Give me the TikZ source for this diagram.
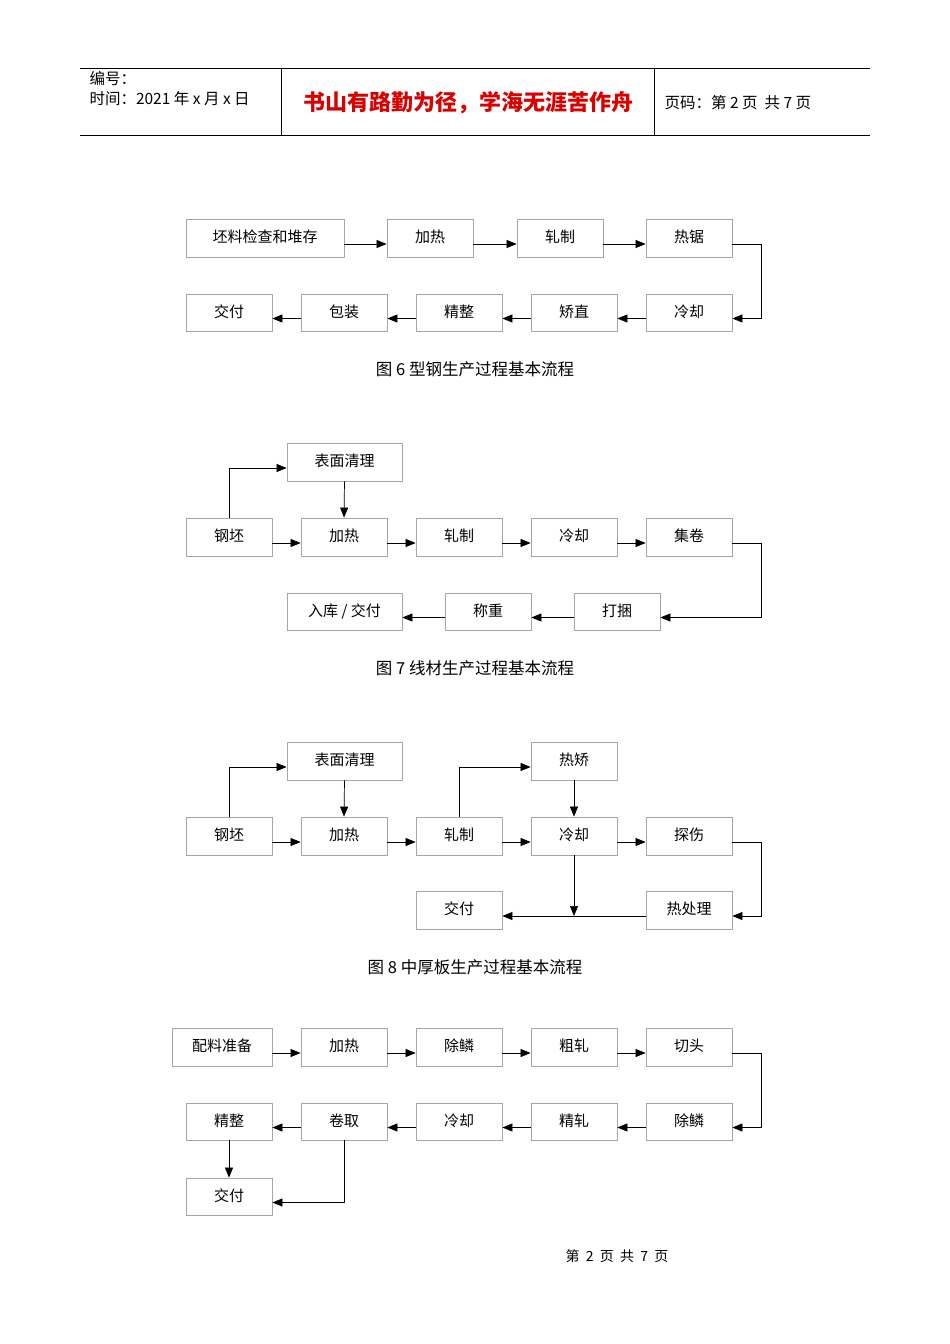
\documentclass[tikz,border=0pt]{standalone}
\usepackage{fontspec}
\setmainfont{Noto Sans CJK SC}
\usetikzlibrary{arrows.meta}
\tikzset{bx/.style={draw=black!35,line width=0.8pt,fill=white,font=\fontsize{15}{18}\selectfont,inner sep=0pt},
ar/.style={draw=black!55,line width=0.7pt,-{Triangle[length=10pt,width=8pt]},black},
ln/.style={draw=black!55,line width=0.7pt},
hd/.style={line width=0.8pt},
captxt/.style={font=\fontsize{16.5}{19}\selectfont}}
\newcommand{\bxx}[6]{\node[bx,minimum width={#4-#2},minimum height={#5-#3}] (#1) at ({(#2+#4)/2},{(#3+#5)/2}) {\raisebox{3pt}{#6}};}
\begin{document}
\begin{tikzpicture}[x=1pt,y=-1pt]
\useasboundingbox (0,0) rectangle (950,1344);
% header
\draw[hd] (80,68) -- (870,68) (80,135) -- (870,135) (281,68) -- (281,135) (654,68) -- (654,135);
\node[anchor=west,font=\fontsize{15.5}{17}\selectfont] (h1) at (86,79) {编号：};
\node[anchor=west,font=\fontsize{15.5}{17}\selectfont] (h2) at (86,99) {时间：2021 年 x 月 x 日};
\node[font=\fontsize{22}{24}\selectfont\bfseries,text=red!85!black] (h3) at (468,103) {书山有路勤为径，学海无涯苦作舟};
\node[anchor=west,font=\fontsize{15.5}{17}\selectfont] (h4) at (661,103) {页码：第 2 页\ \ 共 7 页};
% diagram 6
\bxx{a1}{186}{219}{344}{257}{坯料检查和堆存}
\bxx{a2}{387}{219}{473}{257}{加热}
\bxx{a3}{517}{219}{603}{257}{轧制}
\bxx{a4}{646}{219}{732}{257}{热锯}
\bxx{b1}{186}{294}{272}{331}{交付}
\bxx{b2}{301}{294}{387}{331}{包装}
\bxx{b3}{416}{294}{502}{331}{精整}
\bxx{b4}{531}{294}{617}{331}{矫直}
\bxx{b5}{646}{294}{732}{331}{冷却}
\foreach \p/\q in {a1/a2,a2/a3,a3/a4}{\draw[ar] ([yshift=-6pt]\p.east) -- ([yshift=-6pt]\q.west);}
\foreach \p/\q in {b5/b4,b4/b3,b3/b2,b2/b1}{\draw[ar] ([yshift=-6pt]\p.west) -- ([yshift=-6pt]\q.east);}
\draw[ar] ([yshift=-6pt]a4.east) -- ++(29,0) |- ([yshift=-6pt]b5.east);
\node[captxt] (c6) at (475,369) {图 6 型钢生产过程基本流程};
% diagram 7
\bxx{d0}{287}{443}{402}{481}{表面清理}
\bxx{d1}{186}{518}{272}{556}{钢坯}
\bxx{d2}{301}{518}{387}{556}{加热}
\bxx{d3}{416}{518}{502}{556}{轧制}
\bxx{d4}{531}{518}{617}{556}{冷却}
\bxx{d5}{646}{518}{732}{556}{集卷}
\bxx{e1}{287}{593}{402}{630}{入库 / 交付}
\bxx{e2}{445}{593}{531}{630}{称重}
\bxx{e3}{574}{593}{660}{630}{打捆}
\foreach \p/\q in {d1/d2,d2/d3,d3/d4,d4/d5}{\draw[ar] ([yshift=-6pt]\p.east) -- ([yshift=-6pt]\q.west);}
\foreach \p/\q in {e3/e2,e2/e1}{\draw[ar] ([yshift=-6pt]\p.west) -- ([yshift=-6pt]\q.east);}
\draw[ar] (d1.north) |- ([yshift=-6pt]d0.west);
\draw[ar] (d0.south) -- (d2.north);
\draw[ar] ([yshift=-6pt]d5.east) -- ++(29,0) |- ([yshift=-6pt]e3.east);
\node[captxt] (c7) at (475,668) {图 7 线材生产过程基本流程};
% diagram 8
\bxx{f0}{287}{742}{402}{780}{表面清理}
\bxx{f6}{531}{742}{617}{780}{热矫}
\bxx{f1}{186}{817}{272}{855}{钢坯}
\bxx{f2}{301}{817}{387}{855}{加热}
\bxx{f3}{416}{817}{502}{855}{轧制}
\bxx{f4}{531}{817}{617}{855}{冷却}
\bxx{f5}{646}{817}{732}{855}{探伤}
\bxx{g1}{416}{891}{502}{929}{交付}
\bxx{g2}{646}{891}{732}{929}{热处理}
\foreach \p/\q in {f1/f2,f2/f3,f3/f4,f4/f5}{\draw[ar] ([yshift=-6pt]\p.east) -- ([yshift=-6pt]\q.west);}
\draw[ar] (f1.north) |- ([yshift=-6pt]f0.west);
\draw[ar] (f0.south) -- (f2.north);
\draw[ar] (f3.north) |- ([yshift=-6pt]f6.west);
\draw[ar] (f6.south) -- (f4.north);
\draw[ar] ([yshift=-6pt]f5.east) -- ++(29,0) |- ([yshift=-6pt]g2.east);
\draw[ar] ([yshift=-6pt]g2.west) -- ([yshift=-6pt]g1.east);
\coordinate (m8) at (574,916);
\draw[ar] (f4.south) -- (m8);
\node[captxt] (c8) at (475,967) {图 8 中厚板生产过程基本流程};
% diagram 9
\bxx{k1}{172}{1028}{272}{1066}{配料准备}
\bxx{k2}{301}{1028}{387}{1066}{加热}
\bxx{k3}{416}{1028}{502}{1066}{除鳞}
\bxx{k4}{531}{1028}{617}{1066}{粗轧}
\bxx{k5}{646}{1028}{732}{1066}{切头}
\bxx{l1}{186}{1103}{272}{1140}{精整}
\bxx{l2}{301}{1103}{387}{1140}{卷取}
\bxx{l3}{416}{1103}{502}{1140}{冷却}
\bxx{l4}{531}{1103}{617}{1140}{精轧}
\bxx{l5}{646}{1103}{732}{1140}{除鳞}
\bxx{n1}{186}{1178}{272}{1215}{交付}
\foreach \p/\q in {k1/k2,k2/k3,k3/k4,k4/k5}{\draw[ar] ([yshift=-6pt]\p.east) -- ([yshift=-6pt]\q.west);}
\foreach \p/\q in {l5/l4,l4/l3,l3/l2,l2/l1}{\draw[ar] ([yshift=-6pt]\p.west) -- ([yshift=-6pt]\q.east);}
\draw[ar] ([yshift=-6pt]k5.east) -- ++(29,0) |- ([yshift=-6pt]l5.east);
\draw[ar] (l1.south) -- (n1.north);
\draw[ar] (l2.south) |- ([yshift=-6pt]n1.east);
\node[font=\fontsize{14}{16}\selectfont] (ft) at (617,1256) {第\ \ 2\ \ 页\ \ 共\ \ 7\ \ 页};
\end{tikzpicture}
\end{document}
